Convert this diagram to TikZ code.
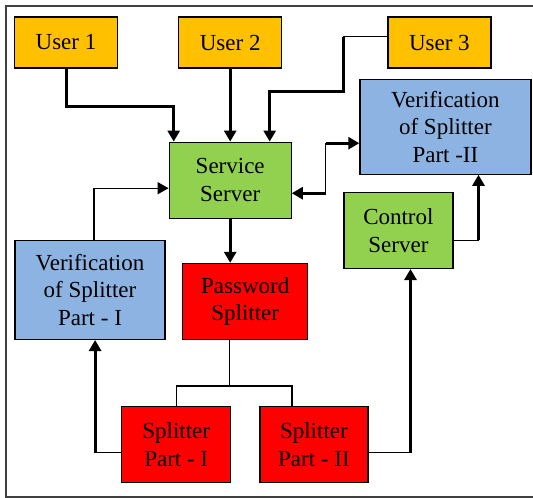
\documentclass[tikz,border=0pt]{standalone}
\usepackage{fontspec}
\setmainfont{Liberation Serif}
\usetikzlibrary{positioning,arrows.meta}
\definecolor{userorange}{HTML}{FFC000}
\definecolor{servergreen}{HTML}{92D050}
\definecolor{verifblue}{HTML}{8DB3E2}
\definecolor{splitred}{HTML}{FF0000}

\begin{document}
\begin{tikzpicture}[
				box/.style={draw, line width=1.2pt, align=center, inner sep=1pt, font=\fontsize{23}{27.5}\selectfont},
				userbox/.style={box, fill=userorange, minimum width=103pt, minimum height=51pt},
				serverbox/.style={box, fill=servergreen, minimum height=76pt},
				verifbox/.style={box, fill=verifblue},
				splitbox/.style={box, fill=splitred, minimum height=76pt},
				thinline/.style={line width=1.3pt},
				thickline/.style={line width=3pt},
				arrow/.style={thickline, -{Triangle[length=11pt,width=12pt]}},
				thinarrow/.style={thinline, -{Triangle[length=11pt,width=12pt]}}
			]
			\useasboundingbox (0,0) rectangle (533pt,-498pt);
			% Frame
			\draw[line width=2pt, black!75] (545pt,-6pt) -- (5.5pt,-6pt) -- (5.5pt,-496.5pt) -- (545pt,-496.5pt);

			% Users
			\node[userbox] (user1) at (66pt,-42.5pt) {User 1};
			\node[userbox, right=60pt of user1] (user2) {User 2};
			\node[userbox, right=105pt of user2] (user3) {User 3};

			% Servers and verification
			\node[serverbox, minimum width=122pt, below=73pt of user2] (service) {Service\\Server};
			\node[verifbox, minimum width=171pt, minimum height=95pt, below=10pt of user3, xshift=6pt] (verif2) {Verification\\of Splitter\\Part -II};
			\node[serverbox, minimum width=109pt, below=17pt of verif2, xshift=-47pt] (control) {Control\\Server};
			\node[verifbox, minimum width=150pt, minimum height=99pt, below left=21pt and 3pt of service] (verif1) {Verification\\of Splitter\\Part - I};

			% Splitter
			\node[splitbox, minimum width=125pt, below=44pt of service, xshift=15pt] (password) {Password\\Splitter};
			\node[splitbox, minimum width=109pt, below=66pt of password, xshift=-69pt] (split1) {Splitter\\Part - I};
			\node[splitbox, minimum width=108pt, right=28pt of split1] (split2) {Splitter\\Part - II};

			% Arrows
			\draw[arrow] (user1.south) -- ++(0,-38pt) -| ([xshift=-56.5pt]service.north);
			\draw[arrow] (user2) -- (service);
			\draw[thinline] ([yshift=6pt]user3.west) -- ++(-44pt,0) coordinate (u3corner);
			\draw[arrow] (u3corner) -- ++(0,-54.5pt) -| ([xshift=39.5pt]service.north);
			\draw[thinarrow] ([xshift=4pt]verif1.north) |- ([yshift=-8pt]service.west);
			\draw[arrow, {Triangle[length=11pt,width=12pt]}-] ([yshift=-13pt]service.east) -- ++(34pt,0) coordinate (sv1);
			\draw[thinline] (sv1) -- ++(0,50pt) coordinate (sv2);
			\draw[arrow] (sv2) -- (sv2 -| verif2.west);
			\draw[thinline] ([yshift=-10pt]control.east) -- ++(25pt,0) coordinate (cv);
			\draw[arrow] (cv) -- (cv |- verif2.south);
			\draw[arrow] (service.south) -- (service.south |- password.north);

			% Splitter tree
			\draw[thinline] ([xshift=-15.5pt]password.south) -- ++(0,-46pt) coordinate (fork);
			\draw[thinline] (fork) -| (split1.north);
			\draw[thinline] (fork) -| ([xshift=-22pt]split2.north);
			\draw[thinline] ([yshift=-8pt]split1.west) -- ++(-26pt,0) coordinate (s1c);
			\draw[arrow] (s1c) -- (s1c |- verif1.south);
			\draw[thinline] ([yshift=-8pt]split2.east) -- ++(42pt,0) coordinate (s2c);
			\draw[arrow] (s2c) -- (s2c |- control.south);
		\end{tikzpicture}
\end{document}
